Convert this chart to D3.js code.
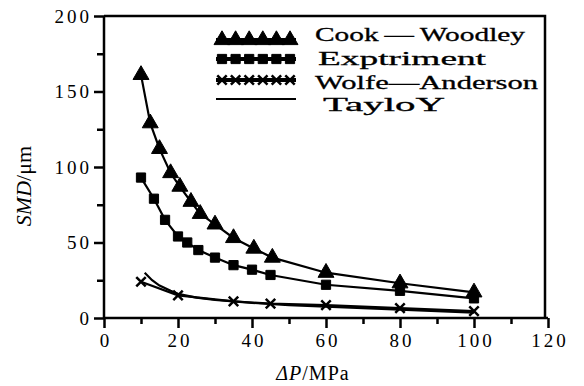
<!DOCTYPE html>
<html>
<head>
<meta charset="utf-8">
<script src="https://cdn.jsdelivr.net/npm/d3@7"></script>
<style>
  body { margin: 0; background: #fff; }
  svg { display: block; }
</style>
</head>
<body>
<svg width="584" height="386"></svg>
<script>
// values
const cookX = [10, 12.5, 15, 18, 20.5, 23.5, 26, 30, 35, 40.5, 45.5, 60, 80, 100];
const cookY = [161, 129, 112, 96, 87, 77, 69, 62, 53, 46, 40, 30, 23, 17];
const expX = [10, 13.5, 16.5, 20, 22.5, 25.5, 30, 35, 40, 45, 60, 80, 100];
const expY = [93, 79, 65, 54, 50, 45, 40, 35, 32, 28.5, 22, 18, 13];
const wolfeX = [10, 20, 35, 45, 60, 80, 100];
const wolfeY = [24, 15, 11, 9.5, 8.5, 6.5, 4.5];
const taylorX = [11, 13, 15, 18, 20, 25, 30, 40, 50, 60, 80, 100];
const taylorY = [30, 25, 21.5, 18, 16, 13.5, 12, 10, 8.5, 7.5, 5.5, 3.5];
const legendNames = ["Cook\u2009\u2014\u2009Woodley", "Exptriment", "Wolfe\u2014Anderson", "TayloY"];
const xTicks = [0, 20, 40, 60, 80, 100, 120];
const yTicks = [0, 50, 100, 150, 200];

const serif = '"Liberation Serif", "DejaVu Serif", "Times New Roman", serif';
const svg = d3.select("svg");
const x = d3.scaleLinear().domain([0, 120]).range([104, 548]);
const y = d3.scaleLinear().domain([0, 200]).range([318, 16]);

const zip = (xs, ys) => xs.map((v, i) => [v, ys[i]]);
const line = d3.line().x(d => x(d[0])).y(d => y(d[1]));

// frame
svg.append("path")
    .attr("d", `M${x(0)},${y(200)}H${x(120) - 3}V${y(0)}`)
    .attr("fill", "none").attr("stroke", "#000").attr("stroke-width", 2.5);

// axes
const xAxis = svg.append("g")
    .attr("transform", `translate(0,${y(0)})`)
    .call(d3.axisBottom(x).tickValues(xTicks).tickSize(10).tickPadding(6).tickFormat(d3.format("d")));
svg.append("g")
    .attr("transform", `translate(0,${y(0)})`)
    .call(d3.axisBottom(x).tickValues(d3.range(10, 120, 20)).tickSize(6).tickFormat(""))
    .call(g => g.select(".domain").remove());
const yAxis = svg.append("g")
    .attr("transform", `translate(${x(0)},0)`)
    .call(d3.axisLeft(y).tickValues(yTicks).tickSize(10).tickPadding(5));
svg.append("g")
    .attr("transform", `translate(${x(0)},0)`)
    .call(d3.axisLeft(y).tickValues([25, 75, 125, 175]).tickSize(7).tickFormat(""))
    .call(g => g.select(".domain").remove());

svg.selectAll(".domain").attr("stroke-width", 2.5);
svg.selectAll(".tick line").attr("stroke-width", 2.5);
xAxis.select(".domain").attr("d", `M${x(0)},0H${x(120)}`);
yAxis.select(".domain").attr("d", `M0,${y(0)}V${y(200)}`);
svg.selectAll(".tick text")
    .style("font-family", serif)
    .attr("font-size", 19)
    .attr("letter-spacing", 3);
yAxis.selectAll(".tick text").attr("dx", 3);
xAxis.selectAll(".tick text").attr("dx", 1.5);

// axis titles
svg.append("text")
    .attr("transform", "translate(31,186) rotate(-90)")
    .attr("text-anchor", "middle")
    .style("font-family", serif)
    .attr("font-size", 22)
    .html('<tspan font-style="italic">SMD</tspan>/\u03bcm');
svg.append("text")
    .attr("x", 313).attr("y", 380)
    .attr("text-anchor", "middle")
    .style("font-family", serif)
    .attr("font-size", 20)
    .attr("letter-spacing", 1)
    .html('<tspan font-style="italic">\u0394P</tspan>/MPa');

// markers
const tri = d3.symbol().type(d3.symbolTriangle).size(110);
const sq = d3.symbol().type(d3.symbolSquare).size(85);
const cross = d3.symbol().type(d3.symbolX).size(60);

function series(xs, ys, sym, kind) {
    const pts = zip(xs, ys);
    svg.append("path").datum(pts)
        .attr("d", line)
        .attr("fill", "none").attr("stroke", "#000").attr("stroke-width", 2.2);
    if (!sym) return;
    svg.append("g").selectAll("path").data(pts).join("path")
        .attr("transform", d => `translate(${x(d[0])},${y(d[1])})`)
        .attr("d", sym)
        .attr("fill", "#000")
        .attr("stroke", "#000")
        .attr("stroke-width", kind === "x" ? 2.5 : 1)
        .attr("stroke-linejoin", "round");
}
series(taylorX, taylorY, null);
series(wolfeX, wolfeY, cross, "x");
series(expX, expY, sq);
series(cookX, cookY, tri);

// legend
const legendRows = [40, 59, 80, 99];
const legendSyms = [tri, sq, cross, null];
const lx = d3.scaleLinear().domain([0, 5]).range([222, 290]);
legendRows.forEach((ry, i) => {
    svg.append("path")
        .attr("d", `M${lx(0) - 6},${ry}H${lx(5) + 6}`)
        .attr("stroke", "#000").attr("stroke-width", i === 3 ? 2 : 4);
    if (legendSyms[i]) {
        svg.append("g").selectAll("path").data(d3.range(6)).join("path")
            .attr("transform", d => `translate(${lx(d)},${ry})`)
            .attr("d", legendSyms[i])
            .attr("fill", "#000").attr("stroke", "#000")
            .attr("stroke-width", i === 2 ? 2.5 : 1);
    }
});
const textX = [315, 318, 315, 323];
const textY = [41, 65, 89, 111];
const textW = [210, 168, 223, 122];
legendNames.forEach((t, i) => {
    svg.append("text")
        .attr("x", textX[i]).attr("y", textY[i])
        .style("font-family", serif)
        .attr("font-size", 19)
        .attr("stroke", "#000").attr("stroke-width", 0.3)
        .attr("textLength", textW[i])
        .attr("lengthAdjust", "spacingAndGlyphs")
        .text(t);
});
</script>
</body>
</html>
